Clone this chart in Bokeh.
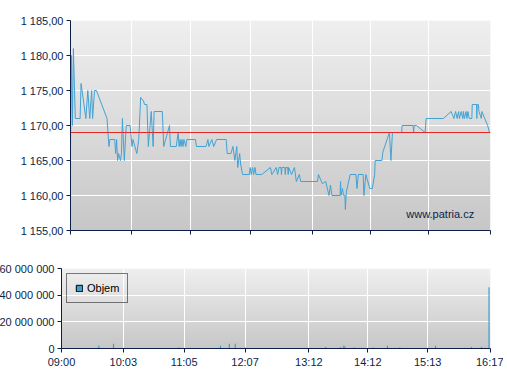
import numpy as np
from bokeh.plotting import figure
from bokeh.models import Range1d, FixedTicker, Span, Label, ColumnDataSource, Legend, LegendItem
from bokeh.layouts import column
from bokeh.embed import file_html
from bokeh.resources import INLINE

# ---------------- data ----------------
# minutes after 09:00 and price (CZK)
price_t = [0, 1, 2, 3, 5, 10, 11, 16, 18, 20, 22, 23, 25, 27, 38, 40, 41, 46, 47, 48, 49, 50,
           52, 53, 54, 56, 58, 62, 64, 65, 69, 71, 73, 76, 77, 79.5, 81, 84, 86, 87, 95.5, 97,
           103, 104, 110, 112, 113, 114, 115, 116, 117, 118, 120, 121, 130, 131, 141, 143, 144,
           147, 149, 152, 162, 163, 167, 169, 171, 173, 174, 176, 177, 179, 186, 187, 188,
           189.5, 190.5, 192, 193, 199, 208, 209.5, 214, 215.5, 217, 219, 219.5, 220, 223,
           223.5, 224, 226, 226.5, 227, 230, 233, 235, 238, 239.5, 257, 258, 262, 265.5, 269,
           270.5, 272, 280.5, 281, 281.5, 283, 284, 285.5, 286, 287, 291, 297, 298, 299.5,
           304.5, 305.3, 307.3, 311.4, 314, 316.5, 317, 324, 325, 331.8, 333.4, 335, 344.6,
           345, 356.5, 357, 357.5, 360, 369, 370, 388, 396, 399, 400.6, 402.3, 403.7, 404.7,
           406.4, 408.2, 408.8, 409.8, 411.5, 412.5, 413.5, 414.9, 417.6, 418, 422.5, 422.8,
           423.1, 424.4, 425, 427.5, 428, 434, 436]
price_v = [1167, 1180, 1170, 1181, 1171, 1171, 1176, 1171, 1175, 1171, 1175, 1171, 1175, 1175,
           1171, 1167, 1168, 1168, 1166, 1168, 1165, 1166, 1165, 1166, 1171, 1165, 1170, 1170,
           1167, 1168, 1166, 1168, 1174, 1173.5, 1173, 1173, 1167, 1172, 1167, 1172, 1172, 1167,
           1170, 1167, 1167, 1169, 1167, 1168, 1167, 1168, 1167, 1168, 1167, 1168, 1168, 1167,
           1167, 1168, 1167, 1168, 1167, 1168, 1168, 1166, 1166, 1167, 1165, 1167, 1164, 1166,
           1164.5, 1163, 1163, 1164, 1163, 1164, 1163, 1164, 1163, 1163, 1164, 1163, 1164, 1163,
           1164, 1164, 1163, 1164, 1164, 1163, 1164, 1164, 1163, 1164, 1163, 1164, 1162, 1163,
           1162, 1162, 1163, 1161.7, 1162, 1160, 1161.5, 1160, 1160, 1162, 1160, 1161, 1160,
           1160, 1158, 1160.5, 1163, 1163, 1161, 1163, 1163, 1160, 1163, 1161, 1161, 1163, 1165,
           1165, 1166.2, 1169, 1165, 1169, 1169, 1170, 1170, 1169, 1170, 1170, 1169, 1171, 1171,
           1172, 1171, 1172, 1171, 1172, 1171, 1172, 1171, 1172, 1171, 1172, 1171, 1172, 1171,
           1171, 1173, 1173, 1171, 1173, 1173, 1172, 1171, 1172, 1170, 1169]
prev_close = 1169

vol_t = [38, 53, 120, 162, 171, 177, 187, 269, 284, 287.5, 288.5, 298, 317.5, 332, 344.6,
         381, 417.6, 427.8, 435.5]
vol_v = [2000000, 3500000, 800000, 2000000, 3500000, 3500000, 800000, 1200000, 1000000,
         2000000, 1500000, 800000, 800000, 2000000, 800000, 2000000, 1200000, 1200000,
         46000000]

x_ticks = [0, 63, 125, 187, 252, 312, 373, 437]
x_labels = ["09:00", "10:03", "11:05", "12:07", "13:12", "14:12", "15:13", "16:17"]
price_ticks = [1155, 1160, 1165, 1170, 1175, 1180, 1185]
vol_ticks = [0, 20000000, 40000000, 60000000]
watermark = "www.patria.cz"
legend_label = "Objem"

# ---------------- style ----------------
NAVY = "#0b1f4a"
LINE_BLUE = "#42a2d4"
BAR_BLUE = "#3a9fd2"
RED = "#e32626"
FONT = "Liberation Sans"


def grad_img(top, bottom, n=256):
    levels = np.linspace(bottom, top, n).round().astype(np.uint8)
    img = np.empty((n, 1), dtype=np.uint32)
    v = img.view(dtype=np.uint8).reshape((n, 1, 4))
    v[:, 0, 0] = levels
    v[:, 0, 1] = levels
    v[:, 0, 2] = levels
    v[:, 0, 3] = 255
    return img


def style_axis(ax):
    ax.axis_line_color = NAVY
    ax.axis_line_width = 1
    ax.major_tick_line_color = NAVY
    ax.major_tick_out = 4
    ax.major_tick_in = 0
    ax.minor_tick_line_color = None
    ax.major_label_text_font = FONT
    ax.major_label_text_font_size = "11px"
    ax.major_label_text_color = NAVY
    ax.major_label_standoff = 3


def style_fig(p):
    p.outline_line_color = None
    p.border_fill_color = "white"
    p.grid.grid_line_color = "white"
    p.grid.grid_line_width = 1
    p.grid.grid_line_alpha = 1
    for ax in p.xaxis + p.yaxis:
        style_axis(ax)
    p.xaxis.ticker = FixedTicker(ticks=x_ticks)


x_range = Range1d(x_ticks[0], x_ticks[-1])

# ---------------- price chart ----------------
p1 = figure(width=503, height=254, x_range=x_range,
            y_range=Range1d(price_ticks[0], price_ticks[-1]),
            output_backend="svg", toolbar_location=None,
            min_border_left=61, min_border_right=13, min_border_top=20, min_border_bottom=24)
style_fig(p1)
bg1 = p1.image_rgba(image=[grad_img(239, 199)], x=x_ticks[0], y=price_ticks[0],
                    dw=x_ticks[-1] - x_ticks[0], dh=price_ticks[-1] - price_ticks[0])
bg1.level = "image"
p1.yaxis.ticker = FixedTicker(ticks=price_ticks)
p1.yaxis.major_label_overrides = {
    t: f"{t:,.2f}".replace(",", " ").replace(".", ",") for t in price_ticks}
# the price chart shows tick marks only on its time axis
p1.xaxis.major_label_overrides = {t: "" for t in x_ticks}

src_p = ColumnDataSource(dict(t=price_t, p=price_v))
p1.line("t", "p", source=src_p, line_color=LINE_BLUE, line_width=1)
p1.add_layout(Span(location=prev_close, dimension="width", line_color=RED, line_width=1))
p1.add_layout(Label(x=420, y=1157.4, text=watermark, text_align="right",
                    text_baseline="middle", text_font=FONT, text_font_size="11px",
                    text_color=NAVY))

# ---------------- volume chart ----------------
p2 = figure(width=521, height=119, x_range=x_range,
            y_range=Range1d(vol_ticks[0], vol_ticks[-1]),
            output_backend="svg", toolbar_location=None,
            min_border_left=70, min_border_right=13, min_border_top=14, min_border_bottom=25,
            margin=(0, 0, 0, -9))
style_fig(p2)
p2.xaxis.major_label_overrides = dict(zip(x_ticks, x_labels))
bg2 = p2.image_rgba(image=[grad_img(239, 199)], x=x_ticks[0], y=vol_ticks[0],
                    dw=x_ticks[-1] - x_ticks[0], dh=vol_ticks[-1] - vol_ticks[0])
bg2.level = "image"
p2.yaxis.ticker = FixedTicker(ticks=vol_ticks)
p2.yaxis.major_label_overrides = {t: f"{t:,}".replace(",", " ") for t in vol_ticks}

src_v = ColumnDataSource(dict(t=vol_t, v=vol_v))
p2.vbar(x="t", top="v", bottom=0, width=1.2, source=src_v,
        fill_color=BAR_BLUE, line_color=None)
# legend swatch (outlined square); its single row has no position so nothing is drawn
proxy = p2.quad(left=[np.nan], right=[np.nan], top=[np.nan], bottom=[np.nan],
                fill_color=BAR_BLUE, line_color="black", line_width=1)
legend = Legend(items=[LegendItem(label=legend_label, renderers=[proxy])],
                location="top_left", margin=5, padding=8, spacing=0,
                glyph_width=8, glyph_height=8, label_height=12, label_standoff=4,
                border_line_color="black", border_line_width=1,
                background_fill_alpha=0, label_text_font=FONT,
                label_text_font_size="11px", label_text_color="black")
p2.add_layout(legend, "center")

layout = column(p1, p2, spacing=0)
open("out.html", "w").write(file_html(layout, INLINE))
